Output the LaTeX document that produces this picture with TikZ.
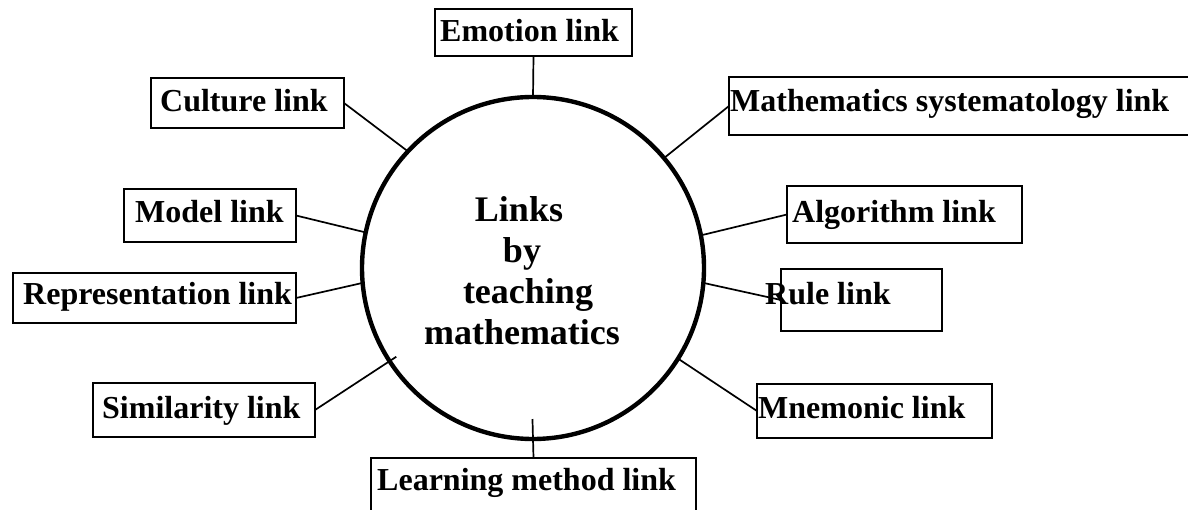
\documentclass[tikz,border=0pt]{standalone}
\usepackage{fontspec}
\setmainfont{Liberation Serif}
\usepackage{tikz}
\usetikzlibrary{positioning}

\begin{document}
\begin{tikzpicture}[x=1pt, y=-1pt,
  linkbox/.style={draw, line width=2pt, inner sep=0pt, outer sep=0pt},
  linktext/.style={anchor=base west, inner sep=0pt, font=\fontsize{32}{38}\selectfont\bfseries},
  spoke/.style={line width=1.7pt}]
  \path[use as bounding box, clip] (0,0) rectangle (1188,510);
  % hub
  \node[draw, circle, line width=4.4pt, minimum size=342pt, inner sep=0pt, outer sep=0pt] (hub) at (533,268) {};
  \node[align=center, font=\fontsize{36}{41}\selectfont\bfseries] (hubT) at (522,271) {Links\hspace*{6pt}\\ by\hspace*{24pt}\\ \hspace*{12pt}teaching\\ mathematics};
  % boxes, left side
  \node[linkbox, minimum width=197pt, minimum height=47pt] (emotion) at (533.5,32.5) {};
  \node[linkbox, minimum width=193pt, minimum height=50pt] (culture) at (247.5,103) {};
  \node[linkbox, minimum width=172pt, minimum height=53pt] (model) at (210,215.5) {};
  \node[linkbox, minimum width=283pt, minimum height=50pt] (repr) at (154.5,298) {};
  \node[linkbox, minimum width=222pt, minimum height=54pt] (simil) at (204,410) {};
  \node[linkbox, minimum width=325pt, minimum height=58pt] (learn) at (533.5,487) {};
  % boxes, right side
  \node[linkbox, minimum width=480pt, minimum height=58pt] (mathsys) at (969,106) {};
  \node[linkbox, minimum width=235pt, minimum height=57pt] (algo) at (904.5,214.5) {};
  \node[linkbox, minimum width=161pt, minimum height=62pt] (rule) at (861.5,300) {};
  \node[linkbox, minimum width=235pt, minimum height=54pt] (mnem) at (874.5,411) {};
  % labels
  \node[linktext] (emotionT) at (440,42) {Emotion link};
  \node[linktext] (cultureT) at (160,112) {Culture link};
  \node[linktext] (modelT) at (135,223) {Model link};
  \node[linktext] (reprT) at (23,305) {Representation link};
  \node[linktext] (similT) at (102,418) {Similarity link};
  \node[linktext] (learnT) at (377,490) {Learning method link};
  \node[linktext] (mathsysT) at (730,112) {Mathematics systematology link};
  \node[linktext] (algoT) at (792,223) {Algorithm link};
  \node[linktext] (ruleT) at (765,305) {Rule link};
  \node[linktext] (mnemT) at (758,418) {Mnemonic link};
  % spokes
  \draw[spoke] (hub.90) -- (emotion.south);
  \draw[spoke] (hub.137.6) -- (culture.east);
  \draw[spoke] (hub.168) -- (model.east);
  \draw[spoke] (hub.185.7) -- (repr.east);
  \draw[spoke, shorten <=-8pt] (hub.213.2) -- (simil.east);
  \draw[spoke, shorten <=-20pt] (hub.south) -- (learn.north);
  \draw[spoke] (hub.40.5) -- (mathsys.west);
  \draw[spoke] (hub.11.6) -- (algo.west);
  \draw[spoke] (hub.-5.6) -- (rule.west);
  \draw[spoke] (hub.-32) -- (mnem.west);
\end{tikzpicture}
\end{document}
